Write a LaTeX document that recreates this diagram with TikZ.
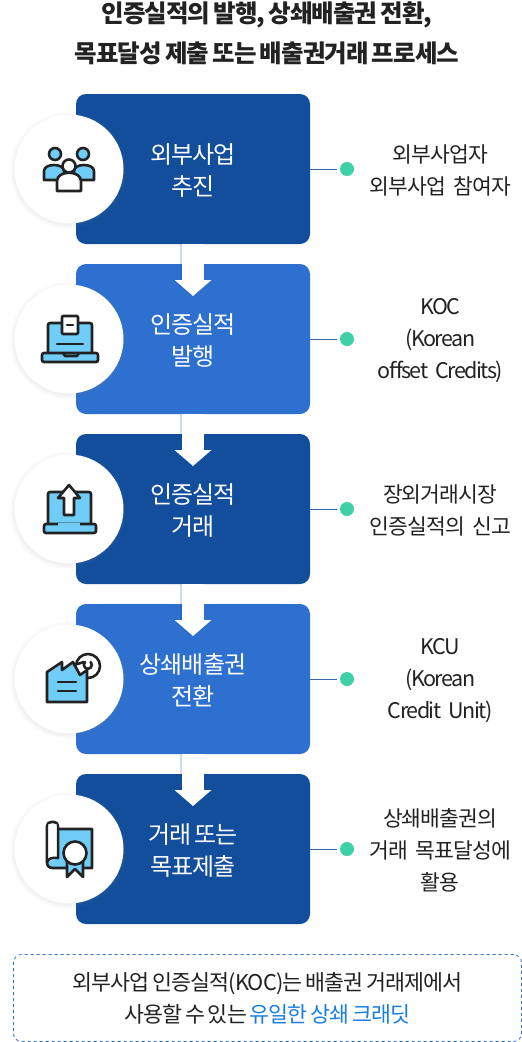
\documentclass[tikz,border=0pt]{standalone}
\usepackage{fontspec}
\setmainfont[LetterSpace=-4,WordSpace=0.7]{Noto Sans CJK KR}
\newfontfamily\latinfont[LetterSpace=-7,WordSpace=0.6]{Noto Sans CJK KR}
\usetikzlibrary{arrows.meta,positioning,calc,shadows}
\definecolor{stepdark}{HTML}{124E9C}
\definecolor{steplight}{HTML}{2D70CF}
\definecolor{dotgreen}{HTML}{3FD0A8}
\definecolor{iconblue}{HTML}{70CDF8}
\definecolor{inkgray}{HTML}{222222}
\definecolor{linkblue}{HTML}{1A7FE0}
\tikzset{
  stepbox/.style={
    rounded corners=10pt,
    minimum width=234pt,
    minimum height=150pt,
    inner sep=0pt,
    outer sep=0pt,
    align=center,
    text=white,
    font=\fontsize{24}{32}\selectfont,
    text height=58pt,
    text depth=6pt
  },
  darkbox/.style={stepbox, fill=stepdark},
  lightbox/.style={stepbox, fill=steplight},
  disc/.style={
    circle,
    fill=white,
    minimum size=109pt,
    inner sep=0pt,
    outer sep=0pt,
    circular drop shadow={shadow xshift=-1pt,shadow yshift=-1pt,shadow scale=1.08,opacity=.18}
  },
  dot/.style={circle, fill=dotgreen, minimum size=14pt, inner sep=0pt, outer sep=0pt},
  itemtext/.style={
    text=inkgray,
    text width=160pt,
    inner sep=0pt,
    align=center,
    font=\fontsize{21.5}{32}\selectfont,
    yshift=-1.5pt
  },
  itemlatin/.style={itemtext, font=\fontsize{21.5}{32}\selectfont\latinfont},
  leader/.style={draw=stepdark!85, line width=.8pt, shorten >=3pt},
  flowarrow/.style={
    draw=white,
    line width=22pt,
    -{Triangle[length=16pt,width=36pt]},
    preaction={draw=stepdark, draw opacity=.2, line width=22pt, transform canvas={xshift=-2pt}, -{Triangle[length=16pt,width=36pt]}}
  },
  iconline/.style={draw=inkgray, line width=2.6pt, line join=round, line cap=round},
  iconfill/.style={iconline, fill=iconblue},
  iconwhite/.style={iconline, fill=white}
}
\begin{document}
\begin{tikzpicture}[x=1pt,y=-1pt,node distance=20pt]
\useasboundingbox (0,0) rectangle (522,1042);
\fill[white] (0,0) rectangle (522,1042);

% title
\node[align=center, text=inkgray, font=\fontsize{24.5}{40}\selectfont\bfseries] (title) at (267,33)
  {인증실적의 발행, 상쇄배출권 전환,\\목표달성 제출 또는 배출권거래 프로세스};

% steps
\node[darkbox] (step1) at (193,169) {외부사업\\추진};
\node[lightbox, below=of step1] (step2) {인증실적\\발행};
\node[darkbox, below=of step2] (step3) {인증실적\\거래};
\node[lightbox, below=of step3] (step4) {상쇄배출권\\전환};
\node[darkbox, below=of step4] (step5) {거래 또는\\목표제출};

% arrows between steps
\foreach \a/\b in {1/2,2/3,3/4,4/5}
  \draw[flowarrow] (step\a.south) -- ([yshift=-32pt]step\b.north);

% circles, dots, texts
\foreach \i in {1,...,5} {
  \node[disc, xshift=-7pt] (disc\i) at (step\i.west) {};
  \node[dot, right=30pt of step\i] (dot\i) {};
  \draw[leader] (step\i.east) -- (dot\i.west);
}
\node[itemtext, right=6pt of dot1] (item1) {외부사업자\\외부사업 참여자};
\node[itemlatin, right=6pt of dot2] (item2) {KOC\\(Korean\\offset Credits)};
\node[itemtext, right=6pt of dot3] (item3) {장외거래시장\\인증실적의 신고};
\node[itemlatin, right=6pt of dot4] (item4) {KCU\\(Korean\\Credit Unit)};
\node[itemtext, right=6pt of dot5] (item5) {상쇄배출권의\\거래 목표달성에\\활용};

% people icon
\begin{scope}[shift={(disc1.center)}]
  \draw[iconfill] (-25,11) -- (-25,2) .. controls (-25,-6) and (-5,-6) .. (-5,2) -- (-5,11) -- cycle;
  \draw[iconfill] (5,11) -- (5,2) .. controls (5,-6) and (25,-6) .. (25,2) -- (25,11) -- cycle;
  \draw[iconfill] (-14,-15) circle (6);
  \draw[iconfill] (14,-15) circle (6);
  \draw[iconwhite] (-12,22) -- (-12,12) .. controls (-12,1) and (12,1) .. (12,12) -- (12,22) -- cycle;
  \draw[iconwhite] (0,-3) circle (6.5);
\end{scope}

% laptop icon with sheet
\begin{scope}[shift={(disc2.center)}]
  \draw[iconfill, rounded corners=2pt] (-21,15) -- (-21,-16) -- (23,-16) -- (23,15);
  \draw[iconfill, rounded corners=2pt] (-27,14) -- (29,14) -- (29,23) -- (-27,23) -- cycle;
  \draw[iconline] (-6,14) -- (-4,17) -- (8,17) -- (10,14);
  \draw[iconwhite, rounded corners=1pt] (-7,-23) rectangle (9,-5);
  \draw[iconline] (-2,-14) -- (4,-14);
  \draw[iconline] (-12,5) -- (14,5);
\end{scope}

% laptop icon with upload arrow
\begin{scope}[shift={(disc3.center)}]
  \draw[iconfill, rounded corners=2pt] (-21,15) -- (-21,-17) -- (22,-17) -- (22,15);
  \draw[iconfill, rounded corners=2pt] (-25,15) -- (27,15) -- (27,24) -- (-25,24) -- cycle;
  \draw[iconblue, line width=3pt] (-11,15) -- (11,15);
  \draw[iconwhite] (0,-24) -- (11,-11) -- (5,-11) -- (5,6) -- (-5,6) -- (-5,-11) -- (-11,-11) -- cycle;
\end{scope}

% factory icon with coin
\begin{scope}[shift={(disc4.center)}]
  \draw[iconline] (19,-13) circle (12);
  \fill[white] (5,-13) -- (16,-17) -- (16,-6) -- cycle;
  \draw[iconfill] (-22,23) -- (-22,-7) -- (-7,-17) -- (-7,-9) -- (4,-17) -- (11,-4) -- (18,-9) -- (18,23) -- cycle;
  \draw[iconline] (15,-17) -- (5,-14);
  \draw[iconline] (16,-17) arc[start angle=225, end angle=-45, radius=4];
  \draw[iconline] (-11,3) -- (7,3);
  \draw[iconline] (-11,12) -- (7,12);
\end{scope}

% certificate icon
\begin{scope}[shift={(disc5.center)}]
  \draw[iconfill] (-11,-20) -- (23,-20) -- (23,19) -- (-16,19) .. controls (-20,19) and (-22,17) .. (-22,13) -- cycle;
  \draw[iconfill] (-2,12) -- (-2,28) -- (6,20) -- (14,28) -- (14,12) -- cycle;
  \draw[iconwhite, rounded corners=4pt] (-22,13) -- (-22,-27) -- (-11,-27) -- (-11,9);
  \fill[white] (-20.7,12) -- (-20.7,-25) -- (-12.3,-25) -- (-12.3,8.5) -- cycle;
  \draw[iconline] (-22,13) .. controls (-21,10) and (-17,8) .. (-11,9);
  \draw[iconwhite] (6,4) circle (11.5);
\end{scope}

% bottom note
\node[draw=steplight, dashed, rounded corners=8pt, line width=.8pt, minimum width=508pt, minimum height=87pt,
  inner sep=0pt, align=center, text=inkgray, font=\fontsize{21.7}{32}\selectfont] (note) at (267.5,998)
  {외부사업 인증실적(KOC)는 배출권 거래제에서\\사용할 수 있는 \textcolor{linkblue}{유일한 상쇄 크래딧}};
\end{tikzpicture}
\end{document}
